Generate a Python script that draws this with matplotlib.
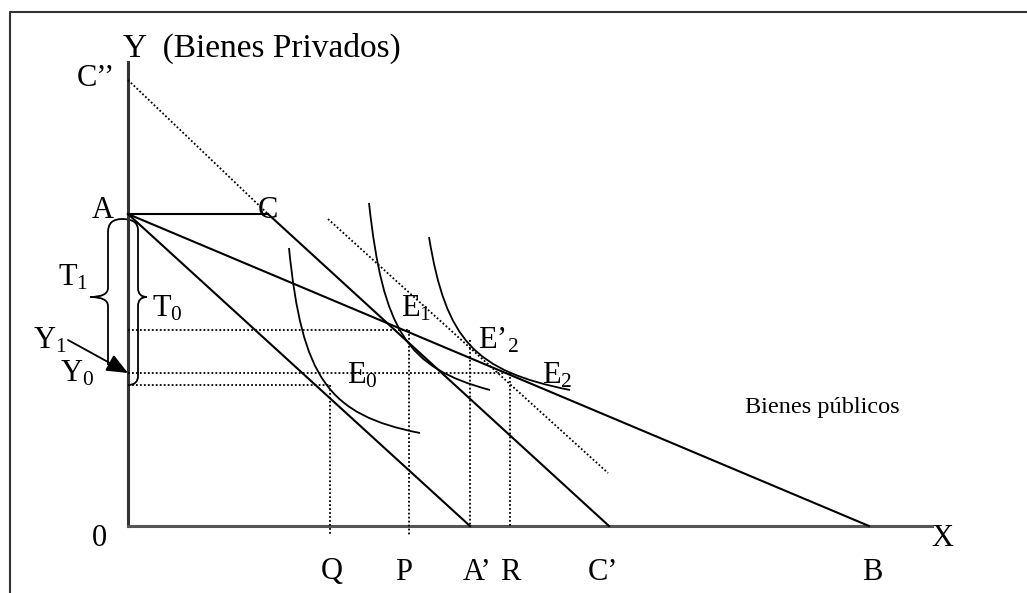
import matplotlib
matplotlib.use("Agg")
import matplotlib.pyplot as plt
from matplotlib.path import Path
from matplotlib.patches import PathPatch

plt.rcParams['font.family'] = ['Liberation Serif', 'DejaVu Serif']
plt.rcParams['mathtext.fontset'] = 'custom'
plt.rcParams['mathtext.rm'] = 'Liberation Serif'
plt.rcParams['mathtext.it'] = 'Liberation Serif:italic'

# ---- diagram data (units: diagram coordinates, origin at 0) ----
y_axis_top = 464
x_axis_end = 804
point_A = (0, 312)
point_C = (140, 312)
point_C2 = (0, 446)          # C''
point_Ap = (342, 0)          # A'
point_Cp = (481, 0)          # C'
point_B = (741, 0)
tangent_dotted = [(200, 307), (480, 53)]

level_Y1 = 196
level_Y0 = 153
level_low = 141
x_Q = 202
x_P = 281
x_Ap = 342
x_R = 382
y_Ep2 = 186
below_axis = -9

# indifference curves as cubic Bezier control points
curve_I0 = [(161, 278), (174, 148), (200, 111), (292, 93)]
curve_I1 = [(241, 323), (255, 195), (279, 158), (362, 136)]
curve_I2 = [(301, 289), (318, 185), (347, 155), (442, 136)]

axis_labels = {"0": (-29, -13), "X": (814, -12)}
bottom_labels = ["Q", "P", "A’", "R", "C’", "B"]
bottom_label_x = [204, 276, 349, 382, 475, 744]
bottom_label_y = -46

fig = plt.figure(figsize=(10.27, 5.93), dpi=100)
ax = fig.add_axes([0, 0, 1, 1])
ax.set_xlim(-128, 899)
ax.set_ylim(-67, 526)
ax.axis('off')

LW = 1.5
DOT = dict(color='black', lw=1.3, linestyle=(0, (1, 1.2)))

# page frame
ax.plot([-118, -118, 899], [-67, 514, 514], color='#333333', lw=1.5, solid_capstyle='butt')

# axes
ax.plot([0, 0], [0, y_axis_top], color='#333333', lw=2.2)
ax.plot([0, x_axis_end], [0, 0], color='#555555', lw=2.2)

# budget lines
ax.plot([point_A[0], point_C[0]], [point_A[1], point_C[1]], color='black', lw=LW)
ax.plot([point_C[0], point_Cp[0]], [point_C[1], point_Cp[1]], color='black', lw=LW)
ax.plot([point_A[0], point_Ap[0]], [point_A[1], point_Ap[1]], color='black', lw=LW)
ax.plot([point_A[0], point_B[0]], [point_A[1], point_B[1]], color='black', lw=LW)

# dotted lines
ax.plot([point_C2[0], point_C[0]], [point_C2[1], point_C[1]], **DOT)
ax.plot([tangent_dotted[0][0], tangent_dotted[1][0]],
        [tangent_dotted[0][1], tangent_dotted[1][1]], **DOT)
ax.plot([0, x_P], [level_Y1, level_Y1], **DOT)
ax.plot([0, x_R], [level_Y0, level_Y0], **DOT)
ax.plot([0, x_Q], [level_low, level_low], **DOT)
ax.plot([x_Q, x_Q], [level_low, below_axis], **DOT)
ax.plot([x_P, x_P], [level_Y1, below_axis], **DOT)
ax.plot([x_Ap, x_Ap], [y_Ep2, 0], **DOT)
ax.plot([x_R, x_R], [level_Y0, 0], **DOT)

# indifference curves
bez = [Path.MOVETO, Path.CURVE4, Path.CURVE4, Path.CURVE4]
for cv in (curve_I0, curve_I1, curve_I2):
    ax.add_patch(PathPatch(Path(cv, bez), fill=False, lw=1.3, edgecolor='black'))

# braces T1 / T0 joined by an arch over A
brace_pts = [(-20, 161), (-20, 220), (-20, 229), (-38, 229), (-20, 229), (-20, 238),
             (-20, 294), (-20, 307), (-6, 307), (10, 307), (10, 296),
             (10, 238), (10, 229), (19, 229), (10, 229), (10, 220),
             (10, 150), (10, 141), (0, 141)]
brace_codes = [Path.MOVETO, Path.LINETO, Path.CURVE3, Path.CURVE3, Path.CURVE3, Path.CURVE3,
               Path.LINETO, Path.CURVE3, Path.CURVE3, Path.CURVE3, Path.CURVE3,
               Path.LINETO, Path.CURVE3, Path.CURVE3, Path.CURVE3, Path.CURVE3,
               Path.LINETO, Path.CURVE3, Path.CURVE3]
ax.add_patch(PathPatch(Path(brace_pts, brace_codes), fill=False, lw=1.3, edgecolor='black'))

# arrow Y1 -> Y0
ax.annotate('', xy=(0, level_Y0), xytext=(-60, 186),
            arrowprops=dict(arrowstyle='-|>,head_length=1.3,head_width=0.55',
                            color='black', lw=1.3, shrinkA=0, shrinkB=0))

FS = 22
txt = dict(fontsize=FS, ha='center', va='center', color='black')
ax.text(-5, 478, "Y  (Bienes Privados)", fontsize=24, ha='left', va='center')
ax.text(-32, 447, "C’’", **txt)
ax.text(-25, 315, "A", **txt)
ax.text(140, 315, "C", **txt)
ax.text(-55, 248, "T$_1$", **txt)
ax.text(39, 217, "T$_0$", **txt)
ax.text(-78, 185, "Y$_1$", **txt)
ax.text(-51, 152, "Y$_0$", **txt)
ax.text(288, 217, "E$_1$", **txt)
ax.text(370, 185, "E’$_2$", **txt)
ax.text(429, 150, "E$_2$", **txt)
ax.text(234, 150, "E$_0$", **txt)
ax.text(694, 119, "Bienes públicos", fontsize=17.5, ha='center', va='center')
for k, (x, y) in axis_labels.items():
    ax.text(x, y, k, **txt)
for lab, x in zip(bottom_labels, bottom_label_x):
    ax.text(x, bottom_label_y, lab, **txt)

fig.savefig("out.png", dpi=100)
